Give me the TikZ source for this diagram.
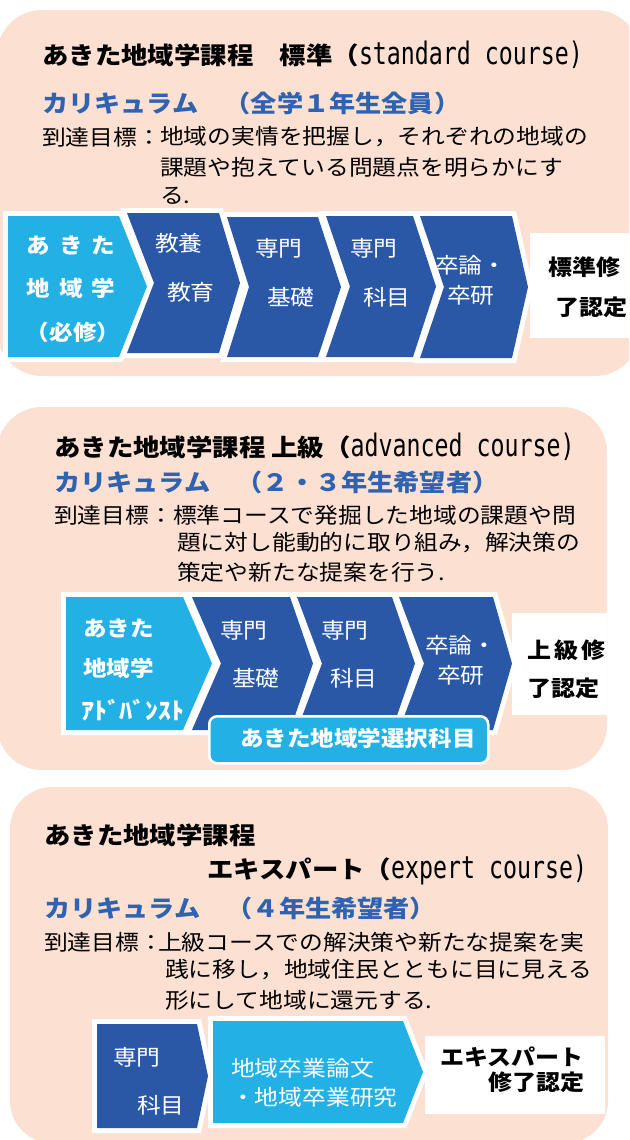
\documentclass[tikz,border=0pt]{standalone}
\usepackage{fontspec}
\setmainfont[FakeStretch=1.1]{Noto Sans CJK JP}
\newfontfamily\monolat[FakeStretch=0.75]{DejaVu Sans Mono}
\newcommand\lat[1]{{\monolat\mdseries\fontsize{31}{32}\selectfont #1}}
\newcommand\chv[6]{(#1,#4) -- (#2,#4) -- (#3,{(#4+#5)/2}) -- (#2,#5) -- (#1,#5) -- ({#1+#6},{(#4+#5)/2}) -- cycle}
\definecolor{peach}{RGB}{252,225,211}
\definecolor{dblue}{RGB}{42,88,167}
\definecolor{lblue}{RGB}{35,177,229}
\definecolor{cblue}{RGB}{47,99,178}
\tikzset{
  ttl/.style={anchor=west, inner sep=0pt, font=\fontsize{24}{28}\selectfont\bfseries},
  cur/.style={anchor=west, inner sep=0pt, text=cblue, font=\fontsize{23.8}{28}\selectfont\bfseries},
  body/.style={anchor=west, inner sep=0pt, font=\fontsize{21.6}{26}\selectfont},
  chvt/.style={anchor=west, inner sep=0pt, text=white, font=\fontsize{21.6}{25}\selectfont},
  chvb/.style={inner sep=0pt, text=white, font=\fontsize{21.4}{25}\selectfont\bfseries},
  cert/.style={anchor=west, inner sep=0pt, font=\fontsize{21.8}{25}\selectfont\bfseries},
  wline/.style={draw=white, fill=white, line width=10pt, line join=miter},
}
\begin{document}
\begin{tikzpicture}[x=1pt,y=-1pt]
\useasboundingbox (0,0) rectangle (629,1140);
\clip (0,0) rectangle (629,1140);
\fill[white] (0,0) rectangle (629,1140);
% panels
\fill[peach, rounded corners=45pt] (-3,10) rectangle (640,376);
\fill[peach, rounded corners=45pt] (-3,407) rectangle (607,770);
\fill[peach, rounded corners=42pt] (10,787) rectangle (608,1143);

% ---------- panel 1 ----------
\node[ttl] (t1) at (42,55) {あきた地域学課程　標準（\lat{standard course)}};
\node[cur] (c1) at (42,103) {カリキュラム　（全学１年生全員）};
\node[body] (g1) at (42,137) {到達目標：};
\node[body] (g1a) at (160,137) {地域の実情を把握し，それぞれの地域の};
\node[body] (g1b) at (160,167) {課題や抱えている問題点を明らかにす};
\node[body] (g1c) at (160,196) {る.};

\path[wline] \chv{8}{119}{147}{216}{357}{0};
\path[wline] \chv{127}{219}{240}{213}{353}{27};
\path[wline] \chv{227}{318}{341}{217}{357}{22};
\path[wline] \chv{326}{413}{436}{216}{357}{24};
\path[wline] \chv{420}{512}{528}{216}{358}{24};
\fill[lblue] \chv{8}{119}{147}{216}{357}{0};
\fill[dblue] \chv{127}{219}{240}{213}{353}{27};
\fill[dblue] \chv{227}{318}{341}{217}{357}{22};
\fill[dblue] \chv{326}{413}{436}{216}{357}{24};
\fill[dblue] \chv{420}{512}{528}{216}{358}{24};
\fill[white] (530,233) rectangle (640,338);

\node[chvb] (a1) at (71,245) {あ\hspace{9pt}き\hspace{9pt}た};
\node[chvb] (a2) at (71,288) {地\hspace{9pt}域\hspace{9pt}学};
\node[chvb] (a3) at (73,332) {（必修）};
\node[chvt] (k1) at (155,243) {教養};
\node[chvt] (k2) at (167,292) {教育};
\node[chvt] (s1) at (255,248) {専門};
\node[chvt] (s2) at (267,297) {基礎};
\node[chvt] (m1) at (350,248) {専門};
\node[chvt] (m2) at (363,297) {科目};
\node[chvt] (z1) at (435,265) {卒論・};
\node[chvt] (z2) at (447,295) {卒研};
\node[cert] (r1a) at (548,267) {標準修};
\node[cert] (r1b) at (555,307) {了認定};

% ---------- panel 2 ----------
\node[ttl] (t2) at (54,447) {あきた地域学課程 上級（\lat{advanced course)}};
\node[cur] (c2) at (54,482) {カリキュラム　（２・３年生希望者）};
\node[body] (g2) at (54,515) {到達目標：};
\node[body] (g2a) at (173,515) {標準コースで発掘した地域の課題や問};
\node[body] (g2b) at (177,543) {題に対し能動的に取り組み，解決策の};
\node[body] (g2c) at (177,572) {策定や新たな提案を行う.};

\path[wline] \chv{66}{183}{212}{597}{730}{0};
\path[wline] \chv{192}{290}{313}{597}{730}{29};
\path[wline] \chv{297}{392}{415}{597}{730}{25};
\path[wline] \chv{399}{493}{512}{597}{730}{25};
\fill[lblue] \chv{66}{183}{212}{597}{730}{0};
\fill[dblue] \chv{192}{290}{313}{597}{730}{29};
\fill[dblue] \chv{297}{392}{415}{597}{730}{25};
\fill[dblue] \chv{399}{493}{512}{597}{730}{25};
\fill[white] (512,613) rectangle (607,715);
\node[draw=white, line width=2.5pt, fill=lblue, rounded corners=8pt, minimum width=279pt, minimum height=47pt, anchor=north west, inner sep=0pt] (sel) at (208,715) {};

\node[chvb, anchor=west] (b1) at (83,628) {あきた};
\node[chvb, anchor=west] (b2) at (83,668) {地域学};
\node[chvb, anchor=west, font=\fontsize{23.5}{26}\selectfont\bfseries] (b3) at (81,710) {ｱﾄﾞﾊﾞﾝｽﾄ};
\node[chvt] (s3) at (220,630) {専門};
\node[chvt] (s4) at (232,678) {基礎};
\node[chvt] (m3) at (321,630) {専門};
\node[chvt] (m4) at (330,678) {科目};
\node[chvt] (z3) at (425,645) {卒論・};
\node[chvt] (z4) at (437,675) {卒研};
\node[chvb, anchor=west] (selt) at (240,738) {あきた地域学選択科目};
\node[cert] (r2a) at (527,650) {上\hspace{3pt}級\hspace{3pt}修};
\node[cert] (r2b) at (527,688) {了認定};

% ---------- panel 3 ----------
\node[ttl] (t3a) at (44,835) {あきた地域学課程};
\node[ttl] (t3b) at (207,870) {エキスパート（\lat{expert course)}};
\node[cur] (c3) at (44,908) {カリキュラム　（４年生希望者）};
\node[body] (g3) at (44,942) {到達目標：};
\node[body] (g3a) at (158,942) {上級コースでの解決策や新たな提案を実};
\node[body] (g3b) at (165,970) {践に移し，地域住民とともに目に見える};
\node[body] (g3c) at (165,1000) {形にして地域に還元する.};

\path[wline] \chv{97}{197}{208}{1024}{1128}{0};
\path[wline] \chv{213}{403}{423}{1021}{1123}{0};
\fill[dblue] \chv{97}{197}{208}{1024}{1128}{0};
\fill[lblue] \chv{213}{403}{423}{1021}{1123}{0};
\fill[white] (425,1036) rectangle (605,1114);

\node[chvt] (m5) at (113,1057) {専門};
\node[chvt] (m6) at (137,1105) {科目};
\node[chvt] (e1) at (231,1068) {地域卒業論文};
\node[chvt] (e2) at (231,1097) {・地域卒業研究};
\node[cert] (r3a) at (440,1057) {エキスパート};
\node[cert] (r3b) at (488,1082) {修了認定};
\end{tikzpicture}
\end{document}
